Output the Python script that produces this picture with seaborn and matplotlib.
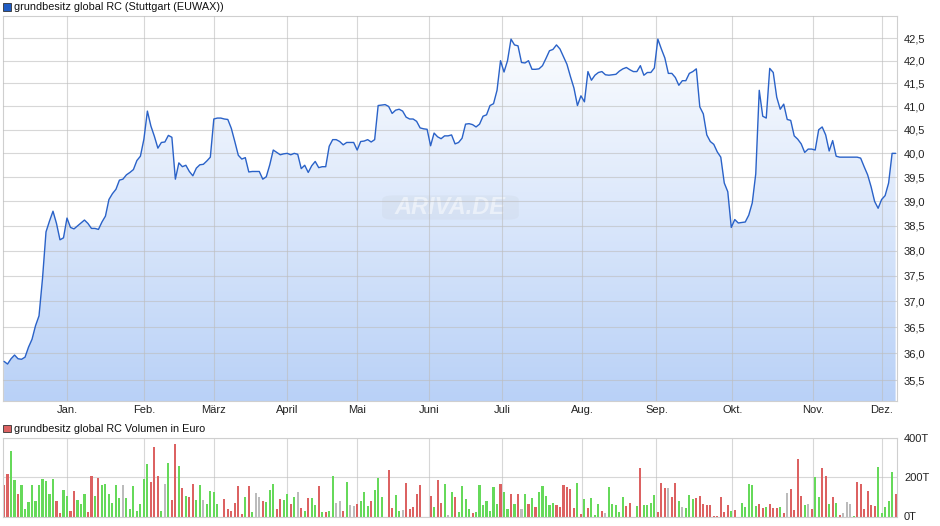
import numpy as np
import pandas as pd
import matplotlib
matplotlib.use("Agg")
import matplotlib.pyplot as plt
import matplotlib.ticker as mticker
from matplotlib.patches import Rectangle, FancyBboxPatch
from matplotlib.colors import LinearSegmentedColormap
import seaborn as sns

# --------------------------------------------------------------
# data (one value per trading day)
# --------------------------------------------------------------
price = [
    35.85, 35.80, 35.90, 35.97, 35.90, 35.89, 35.93, 36.12, 36.27, 36.53,
    36.72, 37.45, 38.38, 38.60, 38.80, 38.55, 38.22, 38.26, 38.66, 38.47,
    38.44, 38.50, 38.56, 38.62, 38.55, 38.45, 38.45, 38.43, 38.58, 38.70,
    39.04, 39.16, 39.25, 39.44, 39.46, 39.55, 39.60, 39.66, 39.85, 39.94,
    40.30, 40.90, 40.58, 40.36, 40.11, 40.23, 40.24, 40.38, 40.34, 39.46,
    39.80, 39.72, 39.75, 39.62, 39.53, 39.69, 39.76, 39.77, 39.84, 39.92,
    40.73, 40.75, 40.75, 40.73, 40.72, 40.53, 40.25, 39.96, 39.88, 39.91,
    39.61, 39.62, 39.62, 39.62, 39.46, 39.51, 39.76, 40.07, 40.02, 39.97,
    39.99, 40.00, 39.97, 40.00, 39.98, 39.68, 39.75, 39.60, 39.74, 39.83,
    39.70, 39.72, 39.72, 40.15, 40.29, 40.29, 40.25, 40.18, 40.23, 40.23,
    40.23, 40.07, 40.25, 40.26, 40.29, 40.24, 40.29, 41.02, 41.03, 41.04,
    41.00, 40.85, 40.92, 40.94, 40.90, 40.77, 40.73, 40.73, 40.68, 40.54,
    40.52, 40.51, 40.16, 40.43, 40.35, 40.31, 40.37, 40.37, 40.39, 40.20,
    40.23, 40.32, 40.62, 40.63, 40.61, 40.56, 40.62, 40.79, 40.82, 41.02,
    41.06, 41.35, 42.00, 41.75, 42.00, 42.48, 42.35, 42.33, 41.96, 41.95,
    42.00, 41.81, 41.81, 41.82, 41.89, 42.05, 42.22, 42.25, 42.35, 42.26,
    42.09, 41.92, 41.65, 41.40, 41.02, 41.23, 41.10, 41.76, 41.57, 41.68,
    41.74, 41.76, 41.69, 41.68, 41.69, 41.70, 41.77, 41.82, 41.85, 41.80,
    41.76, 41.76, 41.89, 41.68, 41.74, 41.74, 41.84, 42.48, 42.26, 42.06,
    41.72, 41.72, 41.63, 41.46, 41.56, 41.56, 41.72, 41.76, 41.82, 40.99,
    40.84, 40.39, 40.25, 40.19, 40.03, 39.92, 39.38, 39.20, 38.47, 38.63,
    38.56, 38.57, 38.58, 38.72, 38.97, 39.57, 41.35, 40.79, 40.75, 41.83,
    41.74, 41.20, 40.94, 41.05, 40.72, 40.70, 40.37, 40.30, 40.20, 40.02,
    40.09, 40.09, 40.07, 40.50, 40.56, 40.39, 40.05, 40.27, 39.94, 39.92,
    39.92, 39.92, 39.92, 39.92, 39.92, 39.90, 39.72, 39.55, 39.30, 39.00,
    38.86, 39.04, 39.12, 39.38, 40.00, 40.00,
]

# volume in thousand euro (T)
volume = [
    162, 216, 330, 187, 112, 162, 38, 73, 157, 78,
    157, 192, 182, 112, 192, 78, 18, 132, 102, 28,
    127, 83, 63, 112, 23, 207, 102, 197, 157, 167,
    112, 68, 157, 93, 157, 93, 38, 152, 28, 63,
    192, 266, 177, 350, 207, 28, 167, 271, 83, 365,
    256, 142, 102, 98, 167, 83, 162, 83, 63, 127,
    122, 63, 0, 88, 38, 28, 68, 152, 13, 98,
    152, 23, 117, 98, 78, 73, 132, 167, 38, 88,
    83, 112, 63, 98, 122, 43, 28, 93, 93, 58,
    152, 23, 23, 28, 207, 68, 78, 28, 177, 58,
    53, 63, 78, 122, 53, 78, 132, 197, 98, 0,
    236, 43, 107, 28, 33, 172, 38, 48, 112, 157,
    0, 0, 102, 48, 187, 68, 167, 8, 122, 98,
    23, 152, 88, 38,
    17, 23, 157, 58, 78, 28, 147, 63, 167, 122,
    38, 112, 63, 112, 38, 112, 63, 93, 48, 122,
    152, 102, 58, 68, 58, 48, 157, 147, 137, 43,
    172, 13, 88, 43, 93, 8, 63, 28, 18, 147,
    63, 58, 23, 98, 53, 68, 0, 53, 246, 58,
    58, 68, 107, 23, 172, 142, 142, 98, 172, 78,
    48, 43, 107, 88, 93, 102, 63, 58, 58, 3,
    3, 98, 23, 58, 28, 33, 0, 68, 48, 167,
    162, 53, 63, 43, 48, 63, 43, 43, 48, 18,
    117, 137, 33, 291, 102, 58, 63, 38, 202, 98,
    246, 207, 63, 98, 68, 8, 18, 73, 63, 3,
    177, 167, 38, 127, 58, 53, 251, 18, 48, 78,
    226, 112,
]

# g = up day, r = down day, n = unchanged
vol_dir = list(
    "rrggrggggg" "gggggrrggr" "rgggrrgrgg" "ggggnggggg" "ggrrrgngrr"
    "grgrrggngg" "ggnrrrrrrg" "rgnnrgggrr" "ggrgnrgrgg" "rgrggnnrgn"
    "nrgggrgggn" "rrggnrrrrr" "nnrgrrgngr" "gggg"
    "rgggggggrg" "grgrngrgrg" "ggggrrrrrr" "grgrgggrng" "ggggrrngrg"
    "gggrrrnrrg" "ngggrrrrrr" "rrrrgrnggg" "ggrrgrrrgr" "nrrrrgnrgg"
    "rrgrgrnnng" "rrrrrrgggg" "gr"
)

month_labels = ["Jan.", "Feb.", "März", "April", "Mai", "Juni",
                "Juli", "Aug.", "Sep.", "Okt.", "Nov.", "Dez."]
month_pos = [18.1, 40.0, 60.0, 80.9, 100.9, 121.6,
             142.5, 165.4, 186.6, 208.3, 231.3, 251.1]

price_ticks = [35.5, 36.0, 36.5, 37.0, 37.5, 38.0, 38.5,
               39.0, 39.5, 40.0, 40.5, 41.0, 41.5, 42.0, 42.5]
vol_ticks = [0, 200, 400]
vol_tick_labels = ["0T", "200T", "400T"]

df = pd.DataFrame({"day": np.arange(len(price)), "price": price})
dv = pd.DataFrame({"day": np.arange(len(volume)), "vol": volume, "dir": vol_dir})

# --------------------------------------------------------------
# figure
# --------------------------------------------------------------
sns.set_theme(style="white")
plt.rcParams["font.family"] = ["Liberation Sans", "DejaVu Sans"]

W, H = 940, 526
fig = plt.figure(figsize=(W / 100, H / 100), dpi=100)


def box(l, t, r, b):
    return [l / W, 1 - b / H, (r - l) / W, (b - t) / H]


ax = fig.add_axes(box(3, 16, 897, 401))
axv = fig.add_axes(box(3, 437.5, 897, 516.5))

grid_kw = dict(color="#bdbdbd", alpha=0.6, linewidth=0.8)
spine_col = "#cfcfcf"
xlim = (-0.3, 255.4)

# ---- price panel
sns.lineplot(data=df, x="day", y="price", ax=ax, color="#2a62c8",
             linewidth=1.0, zorder=3)
ax.set_yscale("log")

poly = ax.fill_between(df["day"], df["price"], 30, facecolor="none", edgecolor="none")
grad = np.linspace(0, 1, 256).reshape(-1, 1)
cmap = LinearSegmentedColormap.from_list("fill", ["#b9d1f7", "#ffffff"])
im = ax.imshow(grad, extent=(0, 1, 0, 1), transform=ax.transAxes, origin="lower",
               cmap=cmap, aspect="auto", zorder=0, interpolation="bilinear")
im.set_clip_path(poly.get_paths()[0], transform=ax.transData)

ax.set_xlim(*xlim)
ax.set_ylim(35.11, 43.0)
ax.yaxis.set_major_locator(mticker.FixedLocator(price_ticks))
ax.yaxis.set_minor_locator(mticker.NullLocator())
ax.set_yticks(price_ticks, [f"{v:.1f}".replace(".", ",") for v in price_ticks])
ax.yaxis.tick_right()
ax.set_xticks(month_pos, month_labels)
ax.tick_params(axis="both", length=0, labelsize=8, colors="#222222")
ax.tick_params(axis="y", pad=5)
ax.tick_params(axis="x", pad=3)
ax.set_xlabel("")
ax.set_ylabel("")
ax.set_axisbelow(False)
ax.grid(True, which="major", **grid_kw)
for s in ax.spines.values():
    s.set_color(spine_col)
    s.set_linewidth(0.8)

# watermark
ax.add_patch(FancyBboxPatch((0.428, 0.475), 0.145, 0.055,
                            boxstyle="round,pad=0.004,rounding_size=0.012",
                            transform=ax.transAxes, facecolor="#c9d2df",
                            edgecolor="none", alpha=0.25, zorder=1))
ax.text(0.5, 0.503, "ARIVA.DE", transform=ax.transAxes, ha="center", va="center",
        fontsize=17, fontstyle="italic", fontweight="bold", color="white",
        alpha=0.5, zorder=1)

# ---- volume panel
sns.barplot(data=dv, x="day", y="vol", hue="dir", ax=axv, native_scale=True,
            palette={"g": "#66d95a", "r": "#dc6262", "n": "#bcbcbc"},
            dodge=False, width=0.6, errorbar=None, legend=False, saturation=1,
            linewidth=0, edgecolor="none", zorder=2)
axv.set_xlim(*xlim)
axv.set_ylim(0, 400)
axv.set_yticks(vol_ticks, vol_tick_labels)
axv.yaxis.tick_right()
axv.set_xticks(month_pos)
axv.tick_params(axis="x", labelbottom=False, length=0)
axv.tick_params(axis="y", length=0, labelsize=8, colors="#222222", pad=5)
axv.set_xlabel("")
axv.set_ylabel("")
axv.set_axisbelow(True)
axv.grid(True, **grid_kw)
for s in axv.spines.values():
    s.set_color(spine_col)
    s.set_linewidth(0.8)

# ---- legend-like headers
fig.add_artist(Rectangle((3 / W, 1 - 10.5 / H), 7.5 / W, 7.5 / H,
                         transform=fig.transFigure, facecolor="#1f5cc4",
                         edgecolor="#333333", linewidth=0.6))
fig.text(14.5 / W, 1 - 7 / H, "grundbesitz global RC (Stuttgart (EUWAX))",
         va="center", ha="left", fontsize=7.8, color="#111111")
fig.add_artist(Rectangle((3 / W, 1 - 432 / H), 7.5 / W, 7.5 / H,
                         transform=fig.transFigure, facecolor="#dc6262",
                         edgecolor="#333333", linewidth=0.6))
fig.text(14.5 / W, 1 - 428.5 / H, "grundbesitz global RC Volumen in Euro",
         va="center", ha="left", fontsize=7.8, color="#111111")

fig.savefig("out.png", dpi=100)
